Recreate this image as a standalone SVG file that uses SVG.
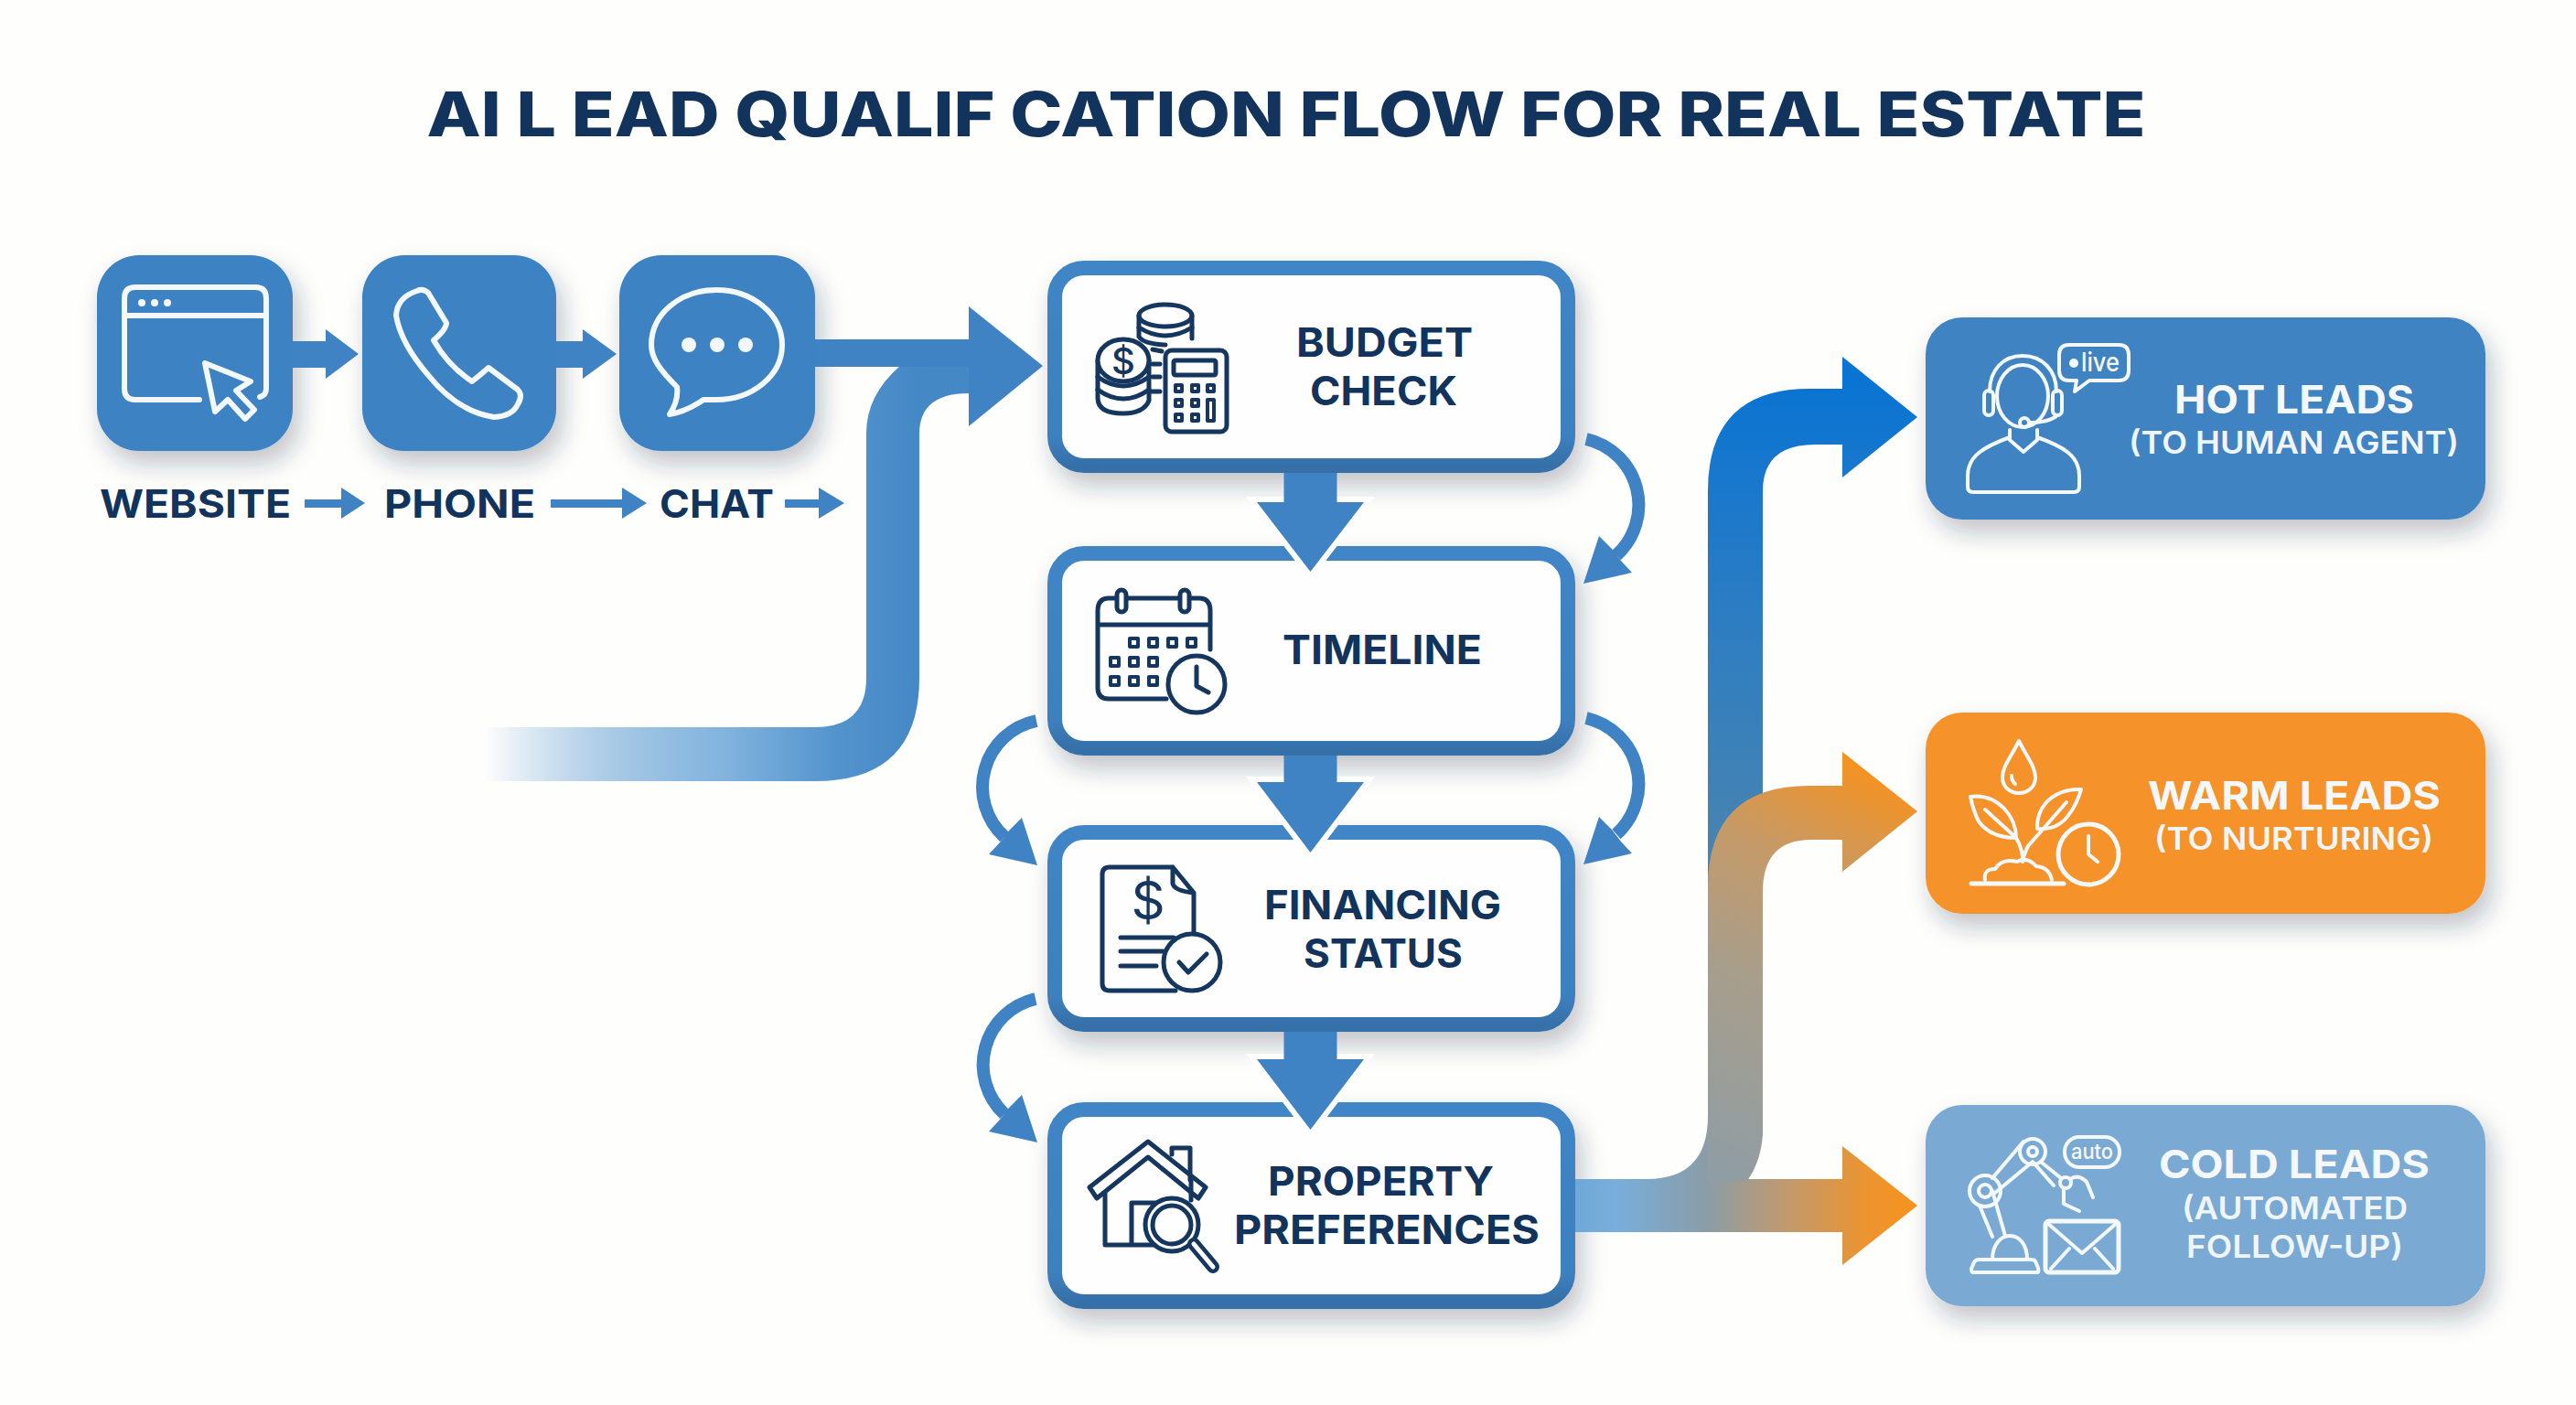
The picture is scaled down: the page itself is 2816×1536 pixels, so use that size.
<svg xmlns="http://www.w3.org/2000/svg" width="2816" height="1536" viewBox="0 0 2816 1536">
<style>
text{font-family:"Inter","Liberation Sans",sans-serif;text-anchor:middle}
.title{font-size:67px;font-weight:800;fill:#12335C}
.lab{font-size:43px;font-weight:700;fill:#12335C}
.nt{font-size:44px;font-weight:700;fill:#12335C}
.lh{font-size:43px;font-weight:700;fill:#F4F8FB}
.ls{font-size:34px;font-weight:600;fill:#F0F5F9}
.w{fill:none;stroke:#F3F8FB;stroke-width:6;stroke-linecap:round;stroke-linejoin:round}
.n{fill:none;stroke:#15365F;stroke-width:5;stroke-linecap:round;stroke-linejoin:round}
.nf{fill:#FEFEFE;stroke:#15365F;stroke-width:5;stroke-linejoin:round}
.src{fill:#3E82C2}
.node{fill:#FEFEFE;stroke:url(#bd);stroke-width:16}
.b{fill:#3F83C4}
.head{fill:#3F83C4;stroke:#FEFEFE;stroke-width:12;paint-order:stroke;stroke-linejoin:miter}
.cv{fill:none;stroke:#3F83C4;stroke-width:14}
</style>
<defs>
<filter id="sh" x="-20%" y="-20%" width="145%" height="150%"><feDropShadow dx="7" dy="14" stdDeviation="13" flood-color="#1E3044" flood-opacity="0.28"/></filter>
<linearGradient id="bd" x1="0" y1="0" x2="0" y2="1"><stop offset="0" stop-color="#3F85C6"/><stop offset="0.85" stop-color="#3E80BF"/><stop offset="1" stop-color="#3570A9"/></linearGradient>
<linearGradient id="fade" gradientUnits="userSpaceOnUse" x1="530" y1="0" x2="1005" y2="0"><stop offset="0" stop-color="#4A8CC8" stop-opacity="0"/><stop offset="0.3" stop-color="#6EA6D6" stop-opacity="0.6"/><stop offset="0.55" stop-color="#82B4DE"/><stop offset="0.8" stop-color="#5494CD"/><stop offset="1" stop-color="#4488C6"/></linearGradient>
<linearGradient id="hot" gradientUnits="userSpaceOnUse" x1="0" y1="1000" x2="0" y2="420"><stop offset="0" stop-color="#4F86AC"/><stop offset="0.55" stop-color="#2E7DC2"/><stop offset="1" stop-color="#0A74D2"/></linearGradient>
<linearGradient id="warm" gradientUnits="userSpaceOnUse" x1="1880" y1="1290" x2="2096" y2="860"><stop offset="0" stop-color="#8F9DA5"/><stop offset="0.45" stop-color="#A89E8B"/><stop offset="0.72" stop-color="#C59A68"/><stop offset="1" stop-color="#F7921E"/></linearGradient>
<linearGradient id="cold" gradientUnits="userSpaceOnUse" x1="1722" y1="0" x2="2096" y2="0"><stop offset="0" stop-color="#6FA8D8"/><stop offset="0.12" stop-color="#78AEDB"/><stop offset="0.38" stop-color="#8A9DA8"/><stop offset="0.6" stop-color="#BD9A72"/><stop offset="0.85" stop-color="#EC9430"/><stop offset="1" stop-color="#F7921E"/></linearGradient>
</defs>
<rect width="2816" height="1536" fill="#FEFEFD"/>
<text class="title" x="1406" y="149" textLength="1879" lengthAdjust="spacingAndGlyphs">AI L EAD QUALIF CATION FLOW FOR REAL ESTATE</text>

<g id="website">
<rect class="src" x="106" y="279" width="214" height="214" rx="46" filter="url(#sh)"/>
<path class="w" d="M218 437H148Q136 437 136 425V326Q136 314 148 314H279Q291 314 291 326V425Q291 432 284 434"/>
<path class="w" d="M136 345H291"/>
<circle cx="155" cy="331" r="4" fill="#F3F8FB"/><circle cx="169" cy="331" r="4" fill="#F3F8FB"/><circle cx="183" cy="331" r="4" fill="#F3F8FB"/>
<polygon class="w" points="224,397 274,417 258,427 278,448 268,458 249,437 235,450"/>
<text class="lab" x="213.500" y="566" textLength="209" lengthAdjust="spacingAndGlyphs">WEBSITE</text>
</g>
<g id="phone">
<rect class="src" x="396" y="279" width="212" height="214" rx="46" filter="url(#sh)"/>
<path class="w" d="M456 318Q462 315 468 320L488 353Q488 360 474 372Q490 400 516 417Q525 410 534 402L566 426Q572 432 566 442Q560 455 540 456Q500 450 468 410Q438 375 433 345Q434 325 456 318Z"/>
<text class="lab" x="502.500" y="566" textLength="165" lengthAdjust="spacingAndGlyphs">PHONE</text>
</g>
<g id="chat">
<rect class="src" x="677" y="279" width="214" height="214" rx="46" filter="url(#sh)"/>
<path class="w" d="M740 423C722 405 712 392 712 377C712 343 744 317 783 317C822 317 855 343 855 377C855 411 822 437 783 437Q775 437 769 437Q750 450 732 453Q742 438 740 423Z"/>
<circle cx="753" cy="377" r="8" fill="#F3F8FB"/><circle cx="784" cy="377" r="8" fill="#F3F8FB"/><circle cx="815" cy="377" r="8" fill="#F3F8FB"/>
<text class="lab" x="783.500" y="566" textLength="125" lengthAdjust="spacingAndGlyphs">CHAT</text>
</g>

<g id="budget-check">
<rect class="node" x="1153" y="293" width="561" height="216" rx="32" filter="url(#sh)"/>
<path class="n" d="M1245 345V368Q1250 376 1274 377M1303 345V370"/>
<ellipse class="n" cx="1274" cy="345" rx="29" ry="12"/>
<path class="n" d="M1245 358Q1274 376 1303 358"/>
<path class="n" d="M1200 394V435Q1200 452 1228 452Q1250 452 1256 438V394"/>
<path class="n" d="M1200 412Q1228 432 1256 412M1200 426Q1228 446 1256 426"/>
<ellipse class="nf" cx="1228" cy="394" rx="28" ry="23" />
<text x="1228" y="409" style="font-size:40px;font-weight:500;fill:#15365F">$</text>
<path class="n" d="M1260 382L1270 384M1260 398H1268M1260 412H1268M1258 428H1268"/>
<rect class="n" x="1274" y="383" width="67" height="89" rx="7"/>
<rect class="n" x="1283" y="394" width="46" height="16" rx="2"/>
<path class="n" style="stroke-width:4" d="M1285 421h7v7h-7zM1303 421h7v7h-7zM1320 421h7v7h-7zM1285 437h7v7h-7zM1303 437h7v7h-7zM1285 453h7v7h-7zM1303 453h7v7h-7zM1320 437h7v23h-7z"/>
<text class="nt" x="1513.500" y="390" textLength="193" lengthAdjust="spacingAndGlyphs">BUDGET</text>
<text class="nt" x="1512.500" y="443" textLength="161" lengthAdjust="spacingAndGlyphs">CHECK</text>
</g>
<g id="timeline">
<rect class="node" x="1153" y="605" width="561" height="213" rx="32" filter="url(#sh)"/>
<path class="n" d="M1323 710V668Q1323 654 1311 654H1212Q1200 654 1200 668V752Q1200 764 1212 764H1275M1200 683H1323"/>
<rect class="nf" x="1221" y="645" width="10" height="24" rx="5"/><rect class="nf" x="1290" y="645" width="10" height="24" rx="5"/>
<path class="n" style="stroke-width:4" d="M1235 698h9v9h-9zM1256 698h9v9h-9zM1277 698h9v9h-9zM1298 698h9v9h-9zM1214 719h9v9h-9zM1235 719h9v9h-9zM1256 719h9v9h-9zM1214 740h9v9h-9zM1235 740h9v9h-9zM1256 740h9v9h-9z"/>
<circle class="nf" cx="1308" cy="748" r="31"/>
<path class="n" d="M1308 729V750L1321 757"/>
<text class="nt" x="1511" y="726" textLength="218" lengthAdjust="spacingAndGlyphs">TIMELINE</text>
</g>
<g id="financing-status">
<rect class="node" x="1153" y="910" width="561" height="210" rx="32" filter="url(#sh)"/>
<path class="n" d="M1282 948H1213Q1205 948 1205 956V1075Q1205 1083 1213 1083H1285M1282 948L1305 976V1025M1282 948V966Q1284 974 1305 976"/>
<text x="1255" y="1005" style="font-size:58px;font-weight:400;fill:#15365F">$</text>
<path class="n" d="M1225 1025H1283M1225 1040H1272M1225 1056H1264"/>
<circle class="nf" cx="1303" cy="1052" r="31"/>
<path class="n" d="M1289 1052L1299 1063L1319 1043"/>
<text class="nt" x="1511.500" y="1005" textLength="259" lengthAdjust="spacingAndGlyphs">FINANCING</text>
<text class="nt" x="1512" y="1058" textLength="174" lengthAdjust="spacingAndGlyphs">STATUS</text>
</g>
<g id="property-preferences">
<rect class="node" x="1153" y="1213" width="561" height="210" rx="32" filter="url(#sh)"/>
<polygon class="n" points="1191,1298 1255,1248 1318,1298 1310,1310 1255,1265 1199,1310"/>
<path class="n" d="M1281 1262V1255H1301V1290M1208 1305V1361H1262M1237 1361V1315H1268M1302 1290V1312"/>
<circle class="nf" cx="1281" cy="1339" r="29"/>
<circle class="n" cx="1281" cy="1339" r="21"/>
<path d="M1305 1360L1326 1385" stroke="#15365F" stroke-width="14" stroke-linecap="round"/>
<path d="M1305 1360L1326 1385" stroke="#FEFEFE" stroke-width="5" stroke-linecap="round"/>
<text class="nt" x="1509.500" y="1307" textLength="247" lengthAdjust="spacingAndGlyphs">PROPERTY</text>
<text class="nt" x="1516" y="1360" textLength="334" lengthAdjust="spacingAndGlyphs">PREFERENCES</text>
</g>

<g id="hot-leads">
<rect x="2105" y="347" width="612" height="221" rx="40" fill="#3F83C2" filter="url(#sh)"/>
<ellipse class="w" style="stroke-width:4" cx="2211" cy="433" rx="28" ry="34"/>
<path class="w" style="stroke-width:4" d="M2175 428C2175 404 2190 389 2211 389C2232 389 2248 404 2248 428"/>
<rect class="w" style="stroke-width:4" x="2169" y="427" width="10" height="27" rx="5"/>
<rect class="w" style="stroke-width:4" x="2244" y="427" width="10" height="27" rx="5"/>
<path class="w" style="stroke-width:4" d="M2249 454Q2240 462 2218 462"/>
<circle class="w" style="stroke-width:4" cx="2213" cy="462" r="5"/>
<path class="w" style="stroke-width:4" d="M2197 470V481L2212 494L2227 481V470M2197 478C2170 488 2151 498 2151 520V532Q2151 538 2157 538H2267Q2273 538 2273 532V520C2273 498 2255 488 2227 478"/>
<path class="w" style="stroke-width:4" d="M2262 377H2316Q2327 377 2327 388V405Q2327 416 2316 416H2284L2268 428L2270 416H2262Q2251 416 2251 405V388Q2251 377 2262 377Z"/>
<circle cx="2267" cy="397" r="5" fill="#F3F8FB"/>
<text x="2296" y="406" textLength="42" lengthAdjust="spacingAndGlyphs" style="font-size:28px;font-weight:500;fill:#F3F8FB">live</text>
<text class="lh" x="2508" y="452" textLength="262" lengthAdjust="spacingAndGlyphs">HOT LEADS</text>
<text class="ls" x="2507.500" y="496" textLength="361" lengthAdjust="spacingAndGlyphs">(TO HUMAN AGENT)</text>
</g>
<g id="warm-leads">
<rect x="2105" y="779" width="612" height="220" rx="40" fill="#F6922A" filter="url(#sh)"/>
<path class="w" style="stroke-width:4" d="M2207 810C2198 828 2189 838 2189 850C2189 860 2197 867 2207 867C2217 867 2225 860 2225 850C2225 838 2216 828 2207 810ZM2199 848Q2199 854 2203 857"/>
<path class="w" style="stroke-width:4" d="M2154 871Q2175 868 2191 884Q2204 898 2204 916Q2176 916 2163 898Q2157 886 2154 871ZM2170 885L2203 915M2275 863Q2252 862 2237 877Q2226 890 2227 906Q2250 908 2262 890Q2270 880 2275 863ZM2259 877L2217 925"/>
<path class="w" style="stroke-width:4" d="M2204 916Q2212 930 2211 942M2217 925Q2212 935 2211 942"/>
<path class="w" style="stroke-width:4" d="M2170 962Q2168 950 2181 950Q2188 938 2205 942Q2216 936 2226 947Q2240 948 2243 962"/>
<path class="w" style="stroke-width:5" d="M2155 966H2256"/>
<circle class="w" style="stroke-width:5" cx="2283" cy="934" r="33"/>
<path class="w" style="stroke-width:4" d="M2283 914V934L2293 942"/>
<text class="lh" x="2508" y="885" textLength="320" lengthAdjust="spacingAndGlyphs">WARM LEADS</text>
<text class="ls" x="2507.500" y="929" textLength="305" lengthAdjust="spacingAndGlyphs">(TO NURTURING)</text>
</g>
<g id="cold-leads">
<rect x="2105" y="1208" width="612" height="220" rx="40" fill="#7AAAD3" filter="url(#sh)"/>
<path class="w" style="stroke-width:4" d="M2157 1391H2227Q2229 1391 2228 1386L2225 1379Q2224 1377 2220 1377H2163Q2160 1377 2158 1380L2155 1387Q2155 1391 2157 1391ZM2178 1377C2178 1361 2187 1351 2197 1351C2208 1351 2216 1361 2216 1377"/>
<path class="w" style="stroke-width:4" d="M2164 1318L2178 1352M2178 1302L2192 1351M2178 1288L2212 1248M2181 1304L2222 1270M2232 1271L2253 1288M2222 1270L2245 1296"/>
<circle class="w" style="stroke-width:4" cx="2170" cy="1302" r="17"/><circle class="w" style="stroke-width:4" cx="2170" cy="1302" r="7"/>
<circle class="w" style="stroke-width:4" cx="2222" cy="1259" r="14"/><circle class="w" style="stroke-width:4" cx="2222" cy="1259" r="5"/>
<circle class="w" style="stroke-width:4" cx="2258" cy="1293" r="6"/>
<path class="w" style="stroke-width:4" d="M2263 1289Q2272 1283 2281 1292L2288 1309M2256 1300V1316L2273 1324"/>
<rect class="w" style="stroke-width:4" x="2257" y="1243" width="60" height="33" rx="16"/>
<text x="2287" y="1267" textLength="46" lengthAdjust="spacingAndGlyphs" style="font-size:24px;font-weight:500;fill:#F3F8FB">auto</text>
<rect class="w" style="stroke-width:5" x="2236" y="1335" width="80" height="56" rx="4"/>
<path class="w" style="stroke-width:4" d="M2238 1337L2276 1370L2314 1337M2242 1387L2262 1365M2310 1387L2290 1365"/>
<text class="lh" x="2508" y="1288" textLength="296" lengthAdjust="spacingAndGlyphs">COLD LEADS</text>
<text class="ls" x="2508.500" y="1333" textLength="247" lengthAdjust="spacingAndGlyphs">(AUTOMATED</text>
<text class="ls" x="2508.500" y="1375" textLength="237" lengthAdjust="spacingAndGlyphs">FOLLOW-UP)</text>
</g>

<g id="connectors">
<polygon class="b" points="320,373 356,373 356,360 392,387 356,414 356,402 320,402"/>
<polygon class="b" points="608,373 637,373 637,360 674,387 637,414 637,402 608,402"/>
<polygon class="b" points="333,546 373,546 373,533 399,550 373,567 373,555 333,555"/>
<polygon class="b" points="602,546 680,546 680,533 707,550 680,567 680,555 602,555"/>
<polygon class="b" points="858,546 895,546 895,533 923,550 895,567 895,555 858,555"/>

<path fill="url(#fade)" d="M530 795H891Q947 795 947 741V474Q947 432 984 400H1059V430Q1005 430 1005 474V741Q1005 854 891 854H530Z"/>
<polygon class="b" points="891,371 1059,371 1059,335 1140,400 1059,466 1059,401 891,401"/>

<polygon class="head" points="1374,549 1491,549 1432.500,625"/><rect class="b" x="1403.500" y="517" width="58" height="40"/>
<polygon class="head" points="1374,855 1491,855 1432.500,932"/><rect class="b" x="1403.500" y="826" width="58" height="35"/>
<polygon class="head" points="1374,1158 1491,1158 1432.500,1235"/><rect class="b" x="1403.500" y="1128" width="58" height="36"/>

<path class="cv" d="M1734 480A74 74 0 0 1 1767 607"/>
<polygon class="b" points="1731,638 1748,586 1762,600 1772,613 1784,626"/>
<path class="cv" d="M1734 785A74 74 0 0 1 1767 912"/>
<polygon class="b" points="1731,945 1748,893 1762,907 1772,920 1784,933"/>
<path class="cv" d="M1133 788A74 74 0 0 0 1098 915"/>
<polygon class="b" points="1134,946 1117,894 1103,908 1093,921 1081,934"/>
<path class="cv" d="M1132 1092A74 74 0 0 0 1098 1218"/>
<polygon class="b" points="1134,1249 1117,1197 1103,1211 1093,1224 1081,1237"/>

<path fill="url(#hot)" d="M1867 1040V537Q1867 425 1978 425H2014V390L2096 456L2014 522V486H1984Q1927 486 1927 537V1040Z"/>
<path fill="url(#cold)" d="M1722 1289H1800Q1867 1289 1867 1220L1875 1289H2014V1253L2096 1318L2014 1383V1347H1722Z"/>
<path fill="url(#warm)" d="M1867 1291V970Q1867 859 1978 859H2014V822L2096 887L2014 953V918H1980Q1927 918 1927 975V1240Q1925 1270 1910 1291Z"/>
</g>
</svg>
